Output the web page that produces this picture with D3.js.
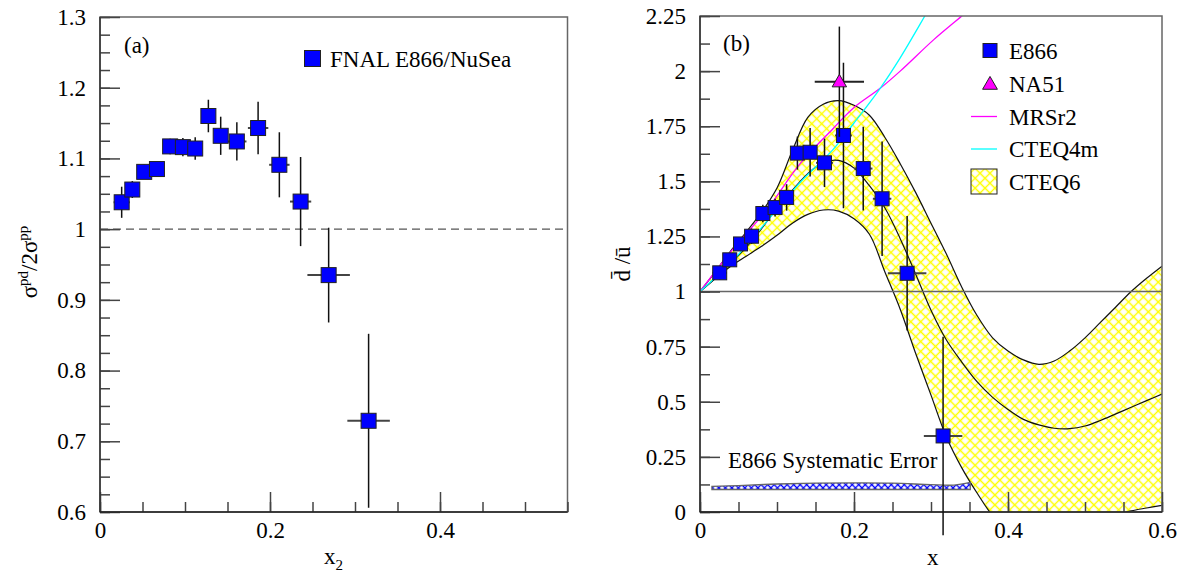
<!DOCTYPE html>
<html>
<head>
<meta charset="utf-8">
<script src="https://cdn.jsdelivr.net/npm/d3@7"></script>
<style>
  body { margin: 0; background: white; }
  svg, svg text { font-family: "Liberation Serif", "Times New Roman", Times, serif; }
</style>
</head>
<body>
<svg id="chart" width="1183" height="575"></svg>
<script>
//PANEL (a): sigma(pd) / 2 sigma(pp) vs x2
const ratioX = [0.0255, 0.038, 0.052, 0.067, 0.0825, 0.0975, 0.112, 0.1275, 0.142, 0.161, 0.186, 0.211, 0.236, 0.269, 0.316]
const ratioY = [1.038, 1.056, 1.081, 1.085, 1.117, 1.116, 1.114, 1.160, 1.132, 1.124, 1.143, 1.091, 1.039, 0.935, 0.729]
const ratioYErr = [0.022, 0.012, 0.01, 0.01, 0.011, 0.013, 0.016, 0.023, 0.027, 0.027, 0.037, 0.046, 0.063, 0.067, 0.123]
const ratioXErr = [0.0095, 0.0075, 0.0075, 0.0075, 0.0075, 0.0075, 0.0075, 0.0075, 0.0075, 0.0113, 0.012, 0.012, 0.0125, 0.025, 0.025]

//PANEL (b): dbar/ubar vs x
const e866X = [0.0256, 0.0386, 0.0526, 0.067, 0.0816, 0.0975, 0.1125, 0.1265, 0.143, 0.1617, 0.1863, 0.212, 0.2365, 0.269, 0.3157]
const e866Y = [1.085, 1.144, 1.216, 1.251, 1.354, 1.381, 1.427, 1.628, 1.632, 1.584, 1.708, 1.558, 1.421, 1.083, 0.345]
const e866YErr = [0.03, 0.03, 0.03, 0.035, 0.04, 0.04, 0.06, 0.075, 0.11, 0.11, 0.33, 0.19, 0.26, 0.26, 0.45]
const e866XErr = [0.0095, 0.0075, 0.0075, 0.0075, 0.0075, 0.0075, 0.0075, 0.0075, 0.0075, 0.011, 0.011, 0.012, 0.012, 0.025, 0.025]

const na51X = [0.181]
const na51Y = [1.952]
const na51YErr = [0.25]
const na51XErr = [0.032]

const mrsX = [0, 0.0433, 0.0866, 0.13, 0.173, 0.199, 0.234, 0.26, 0.304, 0.34, 0.36]
const mrsY = [1, 1.195, 1.37, 1.58, 1.74, 1.832, 1.922, 2.0, 2.144, 2.25, 2.31]

const cteq4X = [0, 0.0433, 0.0866, 0.13, 0.173, 0.199, 0.234, 0.26, 0.292, 0.31]
const cteq4Y = [1, 1.143, 1.317, 1.495, 1.645, 1.76, 1.922, 2.06, 2.25, 2.36]

const cteq6X = [0, 0.02, 0.04, 0.06, 0.08, 0.1, 0.12, 0.14, 0.16, 0.18, 0.2, 0.22, 0.24, 0.26, 0.28, 0.3,
  0.32, 0.34, 0.36, 0.38, 0.4, 0.42, 0.44, 0.46, 0.48, 0.5, 0.52, 0.54, 0.56, 0.58, 0.6]
const cteq6Up = [1, 1.09, 1.185, 1.27, 1.36, 1.47, 1.64, 1.79, 1.85, 1.866, 1.845, 1.8, 1.7, 1.58, 1.45, 1.31,
  1.17, 1.02, 0.89, 0.79, 0.73, 0.69, 0.67, 0.685, 0.73, 0.79, 0.86, 0.93, 1.0, 1.06, 1.115]
const cteq6Mid = [1, 1.06, 1.13, 1.2, 1.285, 1.38, 1.46, 1.535, 1.585, 1.595, 1.56, 1.48, 1.38, 1.24, 1.08, 0.915,
  0.78, 0.68, 0.59, 0.52, 0.465, 0.42, 0.395, 0.38, 0.378, 0.39, 0.415, 0.445, 0.475, 0.505, 0.535]
const cteq6Low = [1, 1.06, 1.115, 1.16, 1.205, 1.255, 1.31, 1.35, 1.37, 1.365, 1.33, 1.26, 1.09, 0.92, 0.72, 0.53,
  0.34, 0.2, 0.085, -0.015, -0.07, -0.1, -0.115, -0.115, -0.1, -0.075, -0.045, -0.015, 0.005, 0.018, 0.03]

const sysX = [0.0155, 0.05, 0.1, 0.15, 0.2, 0.25, 0.3, 0.33, 0.351]
const sysTop = [0.116, 0.12, 0.127, 0.131, 0.132, 0.131, 0.124, 0.122, 0.134]
const sysBase = 0.102

//TICKS
const leftXTicks = [0, 0.2, 0.4]
const leftYTicks = [0.6, 0.7, 0.8, 0.9, 1, 1.1, 1.2, 1.3]
const rightXTicks = [0, 0.2, 0.4, 0.6]
const rightYTicks = [0, 0.25, 0.5, 0.75, 1, 1.25, 1.5, 1.75, 2, 2.25]

const serif = "Liberation Serif"
const fontSize = 23

const svg = d3.select("#chart")
  .attr("font-family", serif)

const xa = d3.scaleLinear().domain([0, 0.55]).range([100, 567.5])
const ya = d3.scaleLinear().domain([0.6, 1.3]).range([512, 17])
const xb = d3.scaleLinear().domain([0, 0.6]).range([700, 1162])
const yb = d3.scaleLinear().domain([0, 2.25]).range([512, 16])

const defs = svg.append("defs")

defs.append("clipPath").attr("id", "clipB")
  .append("rect")
  .attr("x", 700).attr("y", 16)
  .attr("width", 462).attr("height", 496)

let yellow = defs.append("pattern")
  .attr("id", "yellowHatch")
  .attr("patternUnits", "userSpaceOnUse")
  .attr("width", 7).attr("height", 7)
  .attr("patternTransform", "rotate(45)")
yellow.append("rect").attr("width", 7).attr("height", 7).attr("fill", "white")
yellow.append("path").attr("d", "M0,3.5 H7 M3.5,0 V7")
  .attr("stroke", "#ffff00").attr("stroke-width", 1.4)

let blue = defs.append("pattern")
  .attr("id", "blueHatch")
  .attr("patternUnits", "userSpaceOnUse")
  .attr("width", 4.6).attr("height", 4.6)
  .attr("patternTransform", "rotate(45)")
blue.append("rect").attr("width", 4.6).attr("height", 4.6).attr("fill", "white")
blue.append("path").attr("d", "M0,2.3 H4.6 M2.3,0 V4.6")
  .attr("stroke", "#0000ff").attr("stroke-width", 1.3)

const fmt = d => String(+d.toFixed(2))

function label(x, y, txt) {
  return svg.append("text")
    .attr("x", x).attr("y", y)
    .attr("font-family", serif)
    .attr("font-size", fontSize)
    .attr("fill", "black")
    .text(txt)
}

function drawAxes(x, y, xMajor, yMajor, xMinorStep, yMinorStep) {
  const x0 = x.range()[0], x1 = x.range()[1]
  const y0 = y.range()[1], y1 = y.range()[0]

  //frame
  svg.append("rect")
    .attr("x", x0).attr("y", y0)
    .attr("width", x1 - x0).attr("height", y1 - y0)
    .attr("fill", "none")
    .attr("stroke", "#666")
    .attr("stroke-width", 1.5)

  const yMinor = d3.range(y.domain()[0], y.domain()[1] + 1e-9, yMinorStep)
  const xMinor = d3.range(x.domain()[0], x.domain()[1] + 1e-9, xMinorStep)

  svg.append("g")
    .attr("transform", `translate(${x0},0)`)
    .call(d3.axisLeft(y).tickValues(yMinor).tickSize(-10).tickFormat(""))
  svg.append("g")
    .attr("class", "major")
    .attr("transform", `translate(${x0},0)`)
    .call(d3.axisLeft(y).tickValues(yMajor).tickSize(-20).tickPadding(14).tickFormat(fmt))

  svg.append("g")
    .attr("transform", `translate(0,${y1})`)
    .call(d3.axisBottom(x).tickValues(xMinor).tickSize(-10).tickFormat(""))
  svg.append("g")
    .attr("class", "major")
    .attr("transform", `translate(0,${y1})`)
    .call(d3.axisBottom(x).tickValues(xMajor).tickSize(-20).tickPadding(10).tickFormat(fmt))

  svg.selectAll(".domain").remove()
  svg.selectAll(".tick line").attr("stroke", "#444").attr("stroke-width", 1.5)
  svg.selectAll(".major").attr("font-family", serif)
  svg.selectAll(".major text")
    .attr("font-family", serif)
    .attr("font-size", fontSize)
    .attr("fill", "black")

  //axis lines
  svg.append("line")
    .attr("x1", x0).attr("x2", x0).attr("y1", y0).attr("y2", y1)
    .attr("stroke", "#333").attr("stroke-width", 1.5)
  svg.append("line")
    .attr("x1", x0).attr("x2", x1).attr("y1", y1).attr("y2", y1)
    .attr("stroke", "#222").attr("stroke-width", 1.5)
}

function drawPoints(g, x, y, xs, ys, yerr, xerr, size) {
  xs.forEach((d, i) => {
    g.append("line")
      .attr("x1", x(d - xerr[i])).attr("x2", x(d + xerr[i]))
      .attr("y1", y(ys[i])).attr("y2", y(ys[i]))
      .attr("stroke", "#444").attr("stroke-width", 2)
    g.append("line")
      .attr("x1", x(d)).attr("x2", x(d))
      .attr("y1", y(ys[i] - yerr[i])).attr("y2", y(ys[i] + yerr[i]))
      .attr("stroke", "#111").attr("stroke-width", 1.5)
  })
  xs.forEach((d, i) => {
    g.append("rect")
      .attr("x", x(d) - size / 2).attr("y", y(ys[i]) - size / 2)
      .attr("width", size).attr("height", size)
      .attr("fill", "#0000ff")
      .attr("stroke", "#222").attr("stroke-width", 1)
  })
}

// ---------------- PANEL (a) ----------------
svg.append("line")
  .attr("x1", xa(0)).attr("x2", xa(0.55))
  .attr("y1", ya(1)).attr("y2", ya(1))
  .attr("stroke", "#555").attr("stroke-width", 1.3)
  .attr("stroke-dasharray", "8,5")

drawAxes(xa, ya, leftXTicks, leftYTicks, 0.05, 0.025)

drawPoints(svg.append("g"), xa, ya, ratioX, ratioY, ratioYErr, ratioXErr, 15)

label(124, 53, "(a)")

svg.append("rect")
  .attr("x", 304.5).attr("y", 50.5).attr("width", 16).attr("height", 16)
  .attr("fill", "#0000ff").attr("stroke", "#222")
label(330, 66.5, "FNAL E866/NuSea")

let ta = svg.append("text")
  .attr("transform", "translate(37,262) rotate(-90)")
  .attr("text-anchor", "middle")
  .attr("font-family", serif)
  .attr("font-size", fontSize)
ta.append("tspan").text("σ")
ta.append("tspan").attr("dy", -9).attr("font-size", 15).text("pd")
ta.append("tspan").attr("dy", 9).text("/2σ")
ta.append("tspan").attr("dy", -9).attr("font-size", 15).text("pp")

let xt = label(324, 564, null)
xt.append("tspan").text("x")
xt.append("tspan").attr("dy", 6).attr("font-size", 15).text("2")

// ---------------- PANEL (b) ----------------
const plotB = svg.append("g").attr("clip-path", "url(#clipB)")

const bandArea = d3.area()
  .x((d, i) => xb(cteq6X[i]))
  .y0((d, i) => yb(cteq6Low[i]))
  .y1((d, i) => yb(cteq6Up[i]))
  .curve(d3.curveCatmullRom.alpha(0.5))

plotB.append("path")
  .datum(cteq6X)
  .attr("d", bandArea)
  .attr("fill", "url(#yellowHatch)")

function curveLine(xs, ys) {
  return d3.line()
    .x((d, i) => xb(xs[i]))
    .y((d, i) => yb(ys[i]))
    .curve(d3.curveCatmullRom.alpha(0.5))(xs)
}

;[cteq6Up, cteq6Mid, cteq6Low].forEach(ys => {
  plotB.append("path")
    .attr("d", curveLine(cteq6X, ys))
    .attr("fill", "none")
    .attr("stroke", "#111")
    .attr("stroke-width", 1.2)
})

plotB.append("path")
  .attr("d", curveLine(mrsX, mrsY))
  .attr("fill", "none").attr("stroke", "#ff00ff").attr("stroke-width", 1.3)
plotB.append("path")
  .attr("d", curveLine(cteq4X, cteq4Y))
  .attr("fill", "none").attr("stroke", "#00ffff").attr("stroke-width", 1.3)

plotB.append("line")
  .attr("x1", xb(0)).attr("x2", xb(0.6))
  .attr("y1", yb(1)).attr("y2", yb(1))
  .attr("stroke", "#666").attr("stroke-width", 1.5)

//systematic error band
const sysArea = d3.area()
  .x((d, i) => xb(sysX[i]))
  .y0(yb(sysBase))
  .y1((d, i) => yb(sysTop[i]))
  .curve(d3.curveCatmullRom.alpha(0.5))

plotB.append("path")
  .datum(sysX)
  .attr("d", sysArea)
  .attr("fill", "url(#blueHatch)")
  .attr("stroke", "#666")
  .attr("stroke-width", 1.3)

label(728, 468, "E866 Systematic Error")

drawAxes(xb, yb, rightXTicks, rightYTicks, 0.05, 0.125)

drawPoints(svg.append("g"), xb, yb, e866X, e866Y, e866YErr, e866XErr, 14)

//NA51 point
na51X.forEach((d, i) => {
  svg.append("line")
    .attr("x1", xb(d - na51XErr[i])).attr("x2", xb(d + na51XErr[i]))
    .attr("y1", yb(na51Y[i])).attr("y2", yb(na51Y[i]))
    .attr("stroke", "#222").attr("stroke-width", 2)
  svg.append("line")
    .attr("x1", xb(d)).attr("x2", xb(d))
    .attr("y1", yb(na51Y[i] - na51YErr[i])).attr("y2", yb(na51Y[i] + na51YErr[i]))
    .attr("stroke", "#111").attr("stroke-width", 1.5)
  svg.append("path")
    .attr("transform", `translate(${xb(d)},${yb(na51Y[i]) + 1})`)
    .attr("d", d3.symbol(d3.symbolTriangle).size(90)())
    .attr("fill", "#ff00ff").attr("stroke", "#222")
})

label(723, 51, "(b)")

//legend
const legX = 1009
svg.append("rect")
  .attr("x", 983).attr("y", 43.5).attr("width", 14).attr("height", 14)
  .attr("fill", "#0000ff").attr("stroke", "#222")
label(legX, 58.5, "E866")

svg.append("path")
  .attr("transform", "translate(990,85)")
  .attr("d", d3.symbol(d3.symbolTriangle).size(95)())
  .attr("fill", "#ff00ff").attr("stroke", "#222")
label(legX, 91.5, "NA51")

svg.append("line").attr("x1", 971).attr("x2", 997).attr("y1", 116.5).attr("y2", 116.5)
  .attr("stroke", "#ff00ff").attr("stroke-width", 1.3)
label(legX, 124.5, "MRSr2")

svg.append("line").attr("x1", 971).attr("x2", 997).attr("y1", 149).attr("y2", 149)
  .attr("stroke", "#00ffff").attr("stroke-width", 1.3)
label(legX, 157, "CTEQ4m")

svg.append("rect")
  .attr("x", 971).attr("y", 169).attr("width", 26).attr("height", 25)
  .attr("fill", "url(#yellowHatch)").attr("stroke", "#222")
label(legX, 190, "CTEQ6")

svg.append("text")
  .attr("transform", "translate(630,264) rotate(-90)")
  .attr("text-anchor", "middle")
  .attr("font-family", serif)
  .attr("font-size", fontSize)
  .text("d\u0304 /\u016b")

label(927, 565, "x")
</script>
</body>
</html>
